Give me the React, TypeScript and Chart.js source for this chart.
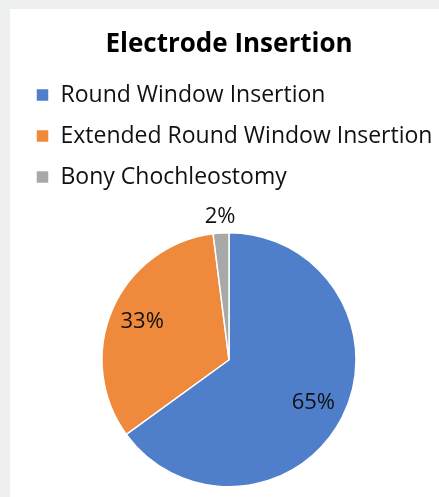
import React, { useEffect, useRef } from "react";
import { Chart, registerables } from "chart.js";

Chart.register(...registerables);

const titleText = "Electrode Insertion";
const categories = [
  "Round Window Insertion",
  "Extended Round Window Insertion",
  "Bony Chochleostomy",
];
const values = [65, 33, 2];
const colors = ["#4f7ecb", "#ef893b", "#a8a8a8"];

const FONT = "'Open Sans', 'Noto Sans', sans-serif";

const pctLabels = {
  id: "pctLabels",
  afterDatasetsDraw(chart: any) {
    const ctx = chart.ctx;
    const meta = chart.getDatasetMeta(0);
    const data = chart.data.datasets[0].data as number[];
    const total = data.reduce((a, b) => a + b, 0);
    ctx.save();
    ctx.font = `22px ${FONT}`;
    ctx.fillStyle = "#111";
    ctx.textAlign = "center";
    ctx.textBaseline = "middle";
    meta.data.forEach((arc: any, i: number) => {
      const { x, y, startAngle, endAngle, outerRadius } = arc.getProps(
        ["x", "y", "startAngle", "endAngle", "outerRadius"],
        true
      );
      const mid = (startAngle + endAngle) / 2;
      const frac = data[i] / total;
      const r = frac < 0.05 ? outerRadius + 16 : outerRadius * 0.745;
      const txt = Math.round(frac * 100) + "%";
      ctx.fillText(txt, x + Math.cos(mid) * r, y + Math.sin(mid) * r);
    });
    ctx.restore();
  },
};

export default function App() {
  const ref = useRef<HTMLCanvasElement | null>(null);
  useEffect(() => {
    if (!ref.current) return;
    const chart = new Chart(ref.current, {
      type: "pie",
      data: {
        labels: categories,
        datasets: [
          {
            data: values,
            backgroundColor: colors,
            borderColor: "#ffffff",
            borderWidth: 1.5,
            radius: 127,
          },
        ],
      },
      options: {
        responsive: false,
        animation: false,
        layout: { padding: 0 },
        plugins: {
          title: {
            display: true,
            text: titleText,
            color: "#000",
            font: { family: FONT, size: 26, weight: "bold" },
            padding: { top: 20.4, bottom: 4.9 },
          },
          legend: {
            display: true,
            position: "top",
            align: "start",
            labels: {
              boxWidth: 13,
              boxHeight: 13,
              padding: 18,
              color: "#111",
              font: { family: FONT, size: 23 },
            },
          },
          tooltip: { enabled: false },
        },
      },
      plugins: [pctLabels],
    });
    return () => chart.destroy();
  }, []);
  return (
    <div
      style={{
        position: "absolute",
        left: 0,
        top: 0,
        width: 439,
        height: 497,
        background: "#eef0ef",
        overflow: "hidden",
      }}
    >
      <div
        style={{
          position: "absolute",
          left: 10,
          top: 9,
          width: 429,
          height: 488,
          background: "#ffffff",
          overflow: "hidden",
        }}
      >
        <canvas
          ref={ref}
          width={422}
          height={512}
          style={{ position: "absolute", left: 8, top: 0, width: 422, height: 512 }}
        />
      </div>
    </div>
  );
}
